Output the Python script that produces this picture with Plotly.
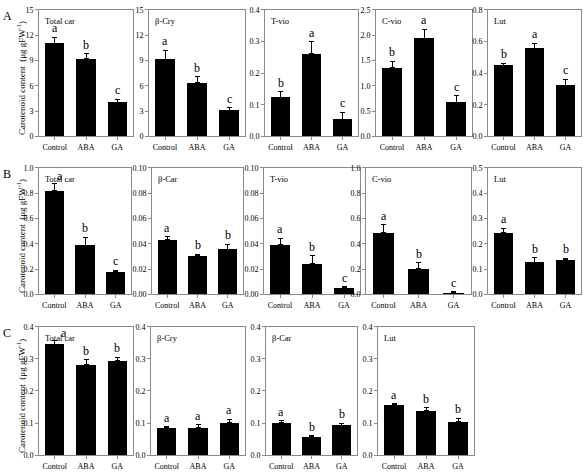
import plotly.graph_objects as go

W, H = 583, 473
FONT = "Liberation Serif"
FRAME = "#8a8a8a"

categories = ["Control", "ABA", "GA"]

# ---- Row A ----
A_totcar = [11.05, 9.2, 4.05]
A_totcar_err = [0.7, 0.6, 0.35]
A_totcar_let = ["a", "b", "c"]
A_bcry = [9.15, 6.35, 3.1]
A_bcry_err = [1.05, 0.7, 0.27]
A_bcry_let = ["a", "b", "c"]
A_tvio = [0.124, 0.261, 0.055]
A_tvio_err = [0.018, 0.038, 0.022]
A_tvio_let = ["b", "a", "c"]
A_cvio = [1.355, 1.94, 0.68]
A_cvio_err = [0.13, 0.18, 0.12]
A_cvio_let = ["b", "a", "c"]
A_lut = [0.45, 0.557, 0.324]
A_lut_err = [0.014, 0.031, 0.037]
A_lut_let = ["b", "a", "c"]

# ---- Row B ----
B_totcar = [0.819, 0.389, 0.181]
B_totcar_err = [0.057, 0.064, 0.008]
B_totcar_let = ["a", "b", "c"]
B_bcar = [0.0435, 0.0306, 0.0358]
B_bcar_err = [0.0021, 0.0013, 0.0038]
B_bcar_let = ["a", "b", "b"]
B_tvio = [0.0394, 0.0241, 0.0052]
B_tvio_err = [0.0049, 0.0065, 0.001]
B_tvio_let = ["a", "b", "c"]
B_cvio = [0.487, 0.202, 0.013]
B_cvio_err = [0.062, 0.047, 0.008]
B_cvio_let = ["a", "b", "c"]
B_lut = [0.2435, 0.127, 0.137]
B_lut_err = [0.017, 0.017, 0.005]
B_lut_let = ["a", "b", "b"]

# ---- Row C ----
C_totcar = [0.346, 0.283, 0.295]
C_totcar_err = [0.01, 0.015, 0.01]
C_totcar_let = ["a", "b", "b"]
C_bcry = [0.0865, 0.0865, 0.1008]
C_bcry_err = [0.002, 0.0085, 0.011]
C_bcry_let = ["a", "a", "a"]
C_bcar = [0.1008, 0.058, 0.0936]
C_bcar_err = [0.006, 0.003, 0.0064]
C_bcar_let = ["a", "b", "b"]
C_lut = [0.158, 0.139, 0.104]
C_lut_err = [0.002, 0.009, 0.011]
C_lut_let = ["a", "b", "b"]

# panel name, values, errors, letters, y max, dtick, tick format
rows = [
    ("A", [
        ("Total car", A_totcar, A_totcar_err, A_totcar_let, 15, 3, "d"),
        ("β-Cry", A_bcry, A_bcry_err, A_bcry_let, 15, 3, "d"),
        ("T-vio", A_tvio, A_tvio_err, A_tvio_let, 0.4, 0.1, ".1f"),
        ("C-vio", A_cvio, A_cvio_err, A_cvio_let, 2.5, 0.5, ".1f"),
        ("Lut", A_lut, A_lut_err, A_lut_let, 0.8, 0.2, ".1f"),
    ]),
    ("B", [
        ("Total car", B_totcar, B_totcar_err, B_totcar_let, 1.0, 0.2, ".1f"),
        ("β-Car", B_bcar, B_bcar_err, B_bcar_let, 0.10, 0.02, ".2f"),
        ("T-vio", B_tvio, B_tvio_err, B_tvio_let, 0.10, 0.02, ".2f"),
        ("C-vio", B_cvio, B_cvio_err, B_cvio_let, 1.0, 0.2, ".1f"),
        ("Lut", B_lut, B_lut_err, B_lut_let, 0.5, 0.1, ".1f"),
    ]),
    ("C", [
        ("Total car", C_totcar, C_totcar_err, C_totcar_let, 0.4, 0.1, ".1f"),
        ("β-Cry", C_bcry, C_bcry_err, C_bcry_let, 0.4, 0.1, ".1f"),
        ("β-Car", C_bcar, C_bcar_err, C_bcar_let, 0.4, 0.1, ".1f"),
        ("Lut", C_lut, C_lut_err, C_lut_let, 0.4, 0.1, ".1f"),
    ]),
]

# pixel layout (left, right) per column and (top, bottom) per row
row_x = [
    [(39, 133), (149, 245), (265, 358), (376, 472), (488, 581)],
    [(39, 131), (152, 243), (264, 360), (366, 471), (488, 581)],
    [(39, 133), (151, 245), (266, 357), (378, 474)],
]
row_y = [(6, 135), (167, 296), (329, 460)]

fig = go.Figure()
layout = {}
annotations = []
k = 0
for r, (rowlab, panels) in enumerate(rows):
    top, bot = row_y[r]
    for c, (name, vals, errs, lets, ymax, dt, fmt) in enumerate(panels):
        k += 1
        left, right = row_x[r][c]
        xa = "x" if k == 1 else f"x{k}"
        ya = "y" if k == 1 else f"y{k}"
        xkey = "xaxis" if k == 1 else f"xaxis{k}"
        ykey = "yaxis" if k == 1 else f"yaxis{k}"
        fig.add_trace(go.Bar(
            x=categories, y=vals, xaxis=xa, yaxis=ya, width=0.62,
            marker=dict(color="black", line=dict(width=0)),
            error_y=dict(type="data", array=errs, arrayminus=[0] * 3,
                         symmetric=False, color="black", thickness=1, width=2.5),
            showlegend=False, hoverinfo="skip",
        ))
        layout[xkey] = dict(
            domain=[left / W, right / W], anchor=ya, type="category",
            range=[-0.5, 2.5], showline=True, linecolor=FRAME, linewidth=1,
            mirror=True, ticks="outside", ticklen=3, tickcolor=FRAME,
            showgrid=False, zeroline=False,
            tickfont=dict(family=FONT, size=8, color="black"),
        )
        layout[ykey] = dict(
            domain=[1 - bot / H, 1 - top / H], anchor=xa,
            range=[0, ymax], dtick=dt, tick0=0, tickformat=fmt,
            showline=True, linecolor=FRAME, linewidth=1, mirror=True,
            ticks="outside", ticklen=3, tickcolor=FRAME,
            showgrid=False, zeroline=False,
            tickfont=dict(family=FONT, size=8, color="black"),
        )
        # panel name
        annotations.append(dict(
            text=name, xref=f"{xa} domain", yref=f"{ya} domain",
            x=0.04, y=0.97, xanchor="left", yanchor="top", showarrow=False,
            font=dict(family=FONT, size=8.5, color="black"),
        ))
        # significance letters
        for i in range(3):
            xs = 0
            if name == "Total car" and i == 0 and rowlab in ("B", "C"):
                xs = 6 if rowlab == "B" else 9
            annotations.append(dict(
                text=lets[i], xref=xa, yref=ya, x=categories[i],
                y=vals[i] + errs[i], xanchor="center", yanchor="bottom",
                xshift=xs, yshift=-1 if xs else 0, showarrow=False,
                font=dict(family=FONT, size=12, color="#000000"),
            ))
    # row label
    annotations.append(dict(
        text=rowlab, xref="paper", yref="paper", x=1 / W, y=1 - (top - 3) / H,
        xanchor="left", yanchor="top", showarrow=False,
        font=dict(family=FONT, size=12, color="black"),
    ))
    # y title
    annotations.append(dict(
        text="Carotenoid content  (μg gFW<sup>-1</sup>)", textangle=-90,
        xref="paper", yref="paper", x=21 / W, y=1 - ((top + bot) / 2 + 5) / H,
        xanchor="center", yanchor="middle", showarrow=False,
        font=dict(family=FONT, size=9, color="black"),
    ))

fig.update_layout(
    width=W, height=H, margin=dict(l=0, r=0, t=0, b=0),
    paper_bgcolor="white", plot_bgcolor="white",
    font=dict(family=FONT, color="black"),
    annotations=annotations, bargap=0, **layout,
)
fig.write_html(
    "out.html",
    config={"displayModeBar": False},
    post_script="document.body.style.margin='0';document.body.style.padding='0';"
                "document.body.style.overflow='hidden';",
)
